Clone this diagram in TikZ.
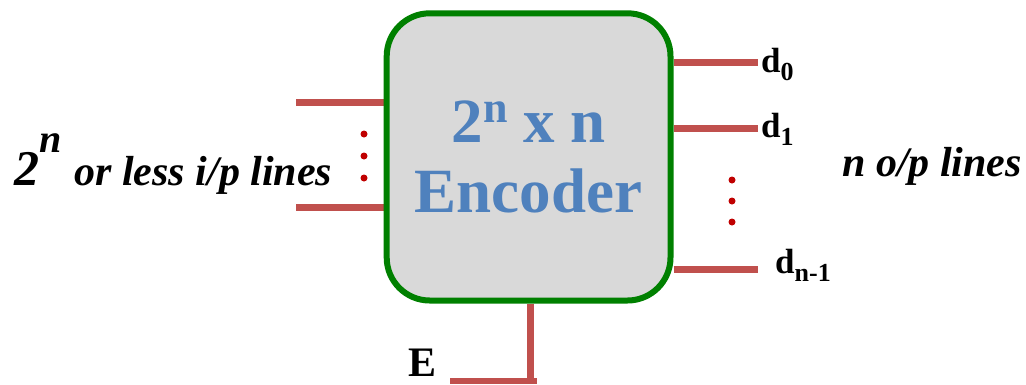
\documentclass[tikz,border=0pt]{standalone}
\usepackage{fontspec}
\setmainfont{Liberation Serif}[
  BoldFont={Liberation Serif Bold},
  ItalicFont={Liberation Serif Italic},
  BoldItalicFont={Liberation Serif Bold Italic}]
\definecolor{wirered}{HTML}{C0504D}
\definecolor{dotred}{HTML}{C00000}
\definecolor{boxgreen}{HTML}{008000}
\definecolor{boxgray}{HTML}{D9D9D9}
\definecolor{titleblue}{HTML}{4F81BD}
\tikzset{
  wire/.style={draw=wirered, line width=7pt},
  dotmark/.style={circle, fill=dotred, inner sep=0pt, minimum size=7pt},
  encbox/.style={draw=boxgreen, fill=boxgray, line width=6pt, rounded corners=43pt,
    minimum width=283.8pt, minimum height=287.2pt, inner sep=0pt},
  lbl/.style={anchor=base west, inner sep=0pt, font=\bfseries},
}
\begin{document}
\begin{tikzpicture}[x=1pt,y=-1pt]
\useasboundingbox (0,0) rectangle (1026,384);
\coordinate (c) at (528.6,156.9);
\coordinate (i0) at (296,102.7);
\coordinate (i1) at (296,207);
\coordinate (o0) at (758,62);
\coordinate (o1) at (758,128);
\coordinate (o2) at (758,269);
\coordinate (ebot) at (530.5,380.5);
\coordinate (e0) at (450,380.5);
\coordinate (e1) at (537,380.5);
\node[encbox, draw=none, fill=none] (encg) at (c) {};
\draw[wire] (i0) -- (i0 -| encg.west);
\draw[wire] (i1) -- (i1 -| encg.west);
\draw[wire] (o0 -| encg.east) -- (o0);
\draw[wire] (o1 -| encg.east) -- (o1);
\draw[wire] (o2 -| encg.east) -- (o2);
\draw[wire] (ebot |- encg.south) -- (ebot);
\draw[wire, line width=6pt] (e0) -- (e1);
\node[encbox] (enc) at (c) {};
\node[anchor=base, inner sep=0pt, text=titleblue, font=\bfseries\fontsize{63}{63}\selectfont] (t1) at (528.6,142)
  {2\raisebox{20pt}{\fontsize{44}{44}\selectfont n} x n};
\node[anchor=base, inner sep=0pt, text=titleblue, font=\bfseries\fontsize{63}{63}\selectfont] (t2) at (528.6,212) {Encoder};
\node[dotmark] (ld0) at (364,134) {};
\node[dotmark] (ld1) at (364,156) {};
\node[dotmark] (ld2) at (364,178) {};
\node[dotmark] (rd0) at (732,180) {};
\node[dotmark] (rd1) at (732,201) {};
\node[dotmark] (rd2) at (732,222) {};
\node[lbl, font=\bfseries\itshape] (inlbl) at (14,185)
  {\fontsize{50}{50}\selectfont 2\raisebox{33pt}{\fontsize{40}{40}\selectfont n}\hspace{13pt}\fontsize{42}{48}\selectfont or less i/p lines};
\node[lbl, font=\bfseries\itshape\fontsize{42}{44}\selectfont] (outlbl) at (842,176) {n o/p lines};
\node[lbl, font=\bfseries\fontsize{35}{38}\selectfont] (ld) at (761,72) {d\raisebox{-8pt}{\fontsize{26}{26}\selectfont 0}};
\node[lbl, font=\bfseries\fontsize{35}{38}\selectfont] (l1) at (761,137) {d\raisebox{-8pt}{\fontsize{26}{26}\selectfont 1}};
\node[lbl, font=\bfseries\fontsize{35}{38}\selectfont] (ln) at (775,273) {d\raisebox{-8pt}{\fontsize{26}{26}\selectfont n-1}};
\node[lbl, font=\bfseries\fontsize{42}{44}\selectfont] (elbl) at (408,376) {E};
\end{tikzpicture}
\end{document}
